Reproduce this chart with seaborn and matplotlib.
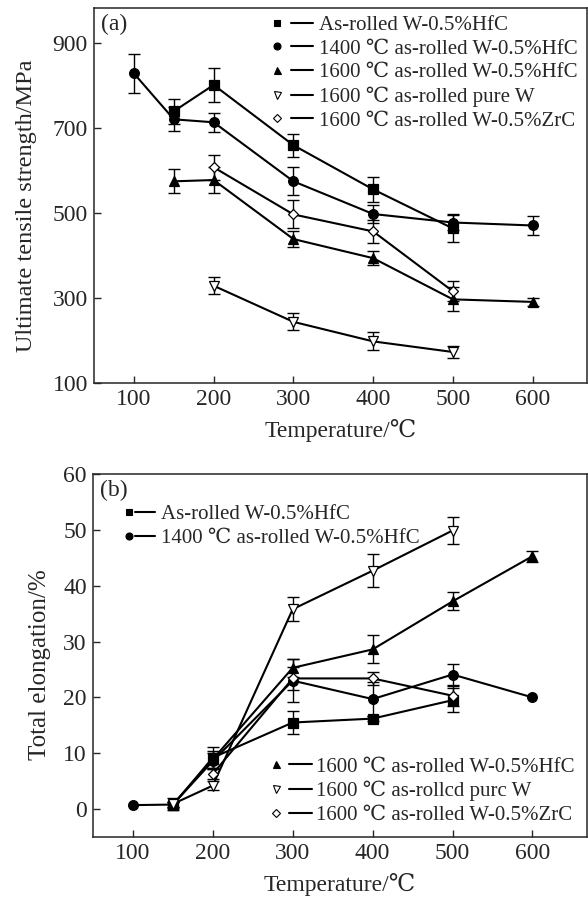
import numpy as np
import pandas as pd
import seaborn as sns
import matplotlib.pyplot as plt
from matplotlib.lines import Line2D
from matplotlib.legend_handler import HandlerTuple

# (a) ultimate tensile strength, MPa
t_as = [150, 200, 300, 400, 500]
uts_as = [740, 802, 660, 556, 464]
uts_as_err = [30, 40, 27, 30, 33]

t_1400 = [100, 150, 200, 300, 400, 500, 600]
uts_1400 = [829, 721, 714, 575, 498, 478, 471]
uts_1400_err = [46, 28, 22, 33, 21, 18, 23]

t_1600 = [150, 200, 300, 400, 500, 600]
uts_1600 = [575, 578, 439, 394, 297, 291]
uts_1600_err = [28, 30, 19, 17, 28, 10]

t_pure = [200, 300, 400, 500]
uts_pure = [329, 244, 198, 173]
uts_pure_err = [20, 20, 21, 15]

t_zrc = [200, 300, 400, 500]
uts_zrc = [608, 497, 457, 316]
uts_zrc_err = [30, 33, 27, 24]

# (b) total elongation, %
el_t_as = [150, 200, 300, 400, 500]
el_as = [0.7, 9.2, 15.5, 16.2, 19.5]
el_as_err = [0.5, 2.0, 2.0, 0.5, 2.2]

el_t_1400 = [100, 150, 200, 300, 400, 500, 600]
el_1400 = [0.7, 0.8, 8.6, 23.0, 19.7, 24.1, 20.0]
el_1400_err = [0, 0.5, 1.5, 3.8, 3.0, 1.8, 0]

el_t_1600 = [150, 200, 300, 400, 500, 600]
el_1600 = [0.8, 8.9, 25.3, 28.6, 37.2, 45.3]
el_1600_err = [0.5, 1.5, 1.6, 2.5, 1.6, 1.0]

el_t_pure = [150, 200, 300, 400, 500]
el_pure = [0.9, 4.2, 35.8, 42.7, 49.9]
el_pure_err = [1.0, 0.8, 2.1, 3.0, 2.4]

el_t_zrc = [200, 300, 400, 500]
el_zrc = [6.3, 23.4, 23.4, 20.3]
el_zrc_err = [1.0, 2.0, 1.2, 1.8]

labels = ["As-rolled W-0.5%HfC",
          "1400 \u2103 as-rolled W-0.5%HfC",
          "1600 \u2103 as-rolled W-0.5%HfC",
          "1600 \u2103 as-rolled pure W",
          "1600 \u2103 as-rolled W-0.5%ZrC"]
labels_b = labels[:3] + ["1600 \u2103 as-rollcd purc W", labels[4]]

# marker, size, face colour
styles = [("s", 6.5, "black"), ("o", 7, "black"), ("^", 7, "black"),
          ("v", 7, "white"), ("D", 5.5, "white")]

sns.set_style("ticks")
plt.rcParams["font.family"] = ["Liberation Serif", "DejaVu Serif"]

fig = plt.figure(figsize=(5.88, 8.98), dpi=100)
ax1 = fig.add_axes([0.160, 0.5735, 0.838, 0.4175])
ax2 = fig.add_axes([0.158, 0.068, 0.840, 0.404])


def draw(ax, series):
    for (t, v, e), (m, ms, fc) in zip(series, styles):
        df = pd.DataFrame({"T": t, "v": v, "e": e})
        sns.lineplot(data=df, x="T", y="v", ax=ax, color="black", linewidth=1.5,
                     marker=m, markersize=ms, markerfacecolor=fc,
                     markeredgecolor="black", markeredgewidth=0.9,
                     errorbar=None, zorder=3)
        d = df[df["e"] > 0]
        ax.errorbar(d["T"], d["v"], yerr=d["e"], fmt="none", ecolor="black",
                    elinewidth=1.0, capsize=4.5, capthick=1.0, zorder=2)


def handles():
    hs = []
    for m, ms, fc in styles:
        mk = Line2D([], [], linestyle="none", marker=m, markersize=ms * 0.72,
                    markerfacecolor=fc, markeredgecolor="black", markeredgewidth=0.8)
        ln = Line2D([], [], color="black", linewidth=1.5)
        hs.append((mk, ln))
    return hs


draw(ax1, [(t_as, uts_as, uts_as_err), (t_1400, uts_1400, uts_1400_err),
           (t_1600, uts_1600, uts_1600_err), (t_pure, uts_pure, uts_pure_err),
           (t_zrc, uts_zrc, uts_zrc_err)])
draw(ax2, [(el_t_as, el_as, el_as_err), (el_t_1400, el_1400, el_1400_err),
           (el_t_1600, el_1600, el_1600_err), (el_t_pure, el_pure, el_pure_err),
           (el_t_zrc, el_zrc, el_zrc_err)])

for ax in (ax1, ax2):
    ax.set_xlim(50, 668)
    ax.set_xticks([100, 200, 300, 400, 500, 600])
    ax.tick_params(direction="in", length=5, width=1, labelsize=17, pad=4.5)
    for s in ax.spines.values():
        s.set_linewidth(1.1)
    ax.set_xlabel("Temperature/\u2103", fontsize=17, labelpad=6)

ax1.set_ylim(100, 983)
ax1.set_yticks([100, 300, 500, 700, 900])
ax1.set_ylabel("Ultimate tensile strength/MPa", fontsize=17.5)
ax1.yaxis.set_label_coords(-0.116, 0.473)
ax2.set_ylim(-5, 60)
ax2.set_yticks([0, 10, 20, 30, 40, 50, 60])
ax2.set_ylabel("Total elongation/%", fontsize=18)
ax2.yaxis.set_label_coords(-0.085, 0.474)

ax1.text(0.015, 0.985, "(a)", transform=ax1.transAxes, fontsize=17, va="top")
ax2.text(0.015, 0.985, "(b)", transform=ax2.transAxes, fontsize=17, va="top")

hd = handles()
ax1.legend(hd, labels, loc="upper right", bbox_to_anchor=(0.998, 1.003), frameon=False,
           fontsize=15, handlelength=2.2, handletextpad=0.3, labelspacing=0.2,
           borderaxespad=0.0, handler_map={tuple: HandlerTuple(ndivide=None, pad=0.17)})
leg = ax2.legend(hd[:2], labels_b[:2], loc="upper left", bbox_to_anchor=(0.035, 0.939),
                 frameon=False, fontsize=15, handlelength=1.75, handletextpad=0.27,
                 labelspacing=0.2, borderaxespad=0.0,
                 handler_map={tuple: HandlerTuple(ndivide=None, pad=-0.2)})
ax2.add_artist(leg)
ax2.legend(hd[2:], labels_b[2:], loc="lower right", bbox_to_anchor=(0.992, 0.01),
           frameon=False, fontsize=15, handlelength=2.3, handletextpad=0.19,
           labelspacing=0.2, borderaxespad=0.0,
           handler_map={tuple: HandlerTuple(ndivide=None, pad=0.05)})

fig.savefig("out.png", dpi=100)
